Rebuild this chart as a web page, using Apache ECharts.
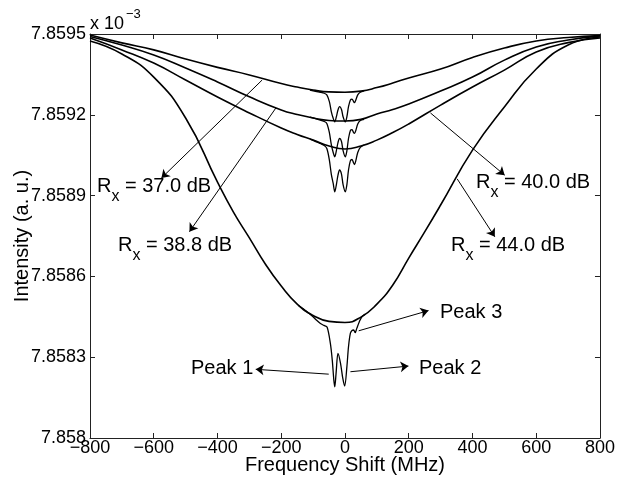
<!DOCTYPE html>
<html>
<head>
<meta charset="utf-8">
<script src="https://cdn.jsdelivr.net/npm/echarts@6/dist/echarts.min.js"></script>
<style>
  html, body { margin: 0; padding: 0; background: #fff; }
  #chart { width: 618px; height: 487px; }
</style>
</head>
<body>
<div id="chart"></div>
<script>
// frequency shift (MHz) where the fitted curves were read
const freq = [-800, -700, -600, -500, -400, -300, -200, -150, -100, -50, 0, 50, 100, 150, 200, 300, 400, 500, 600, 700, 800]
// intensity (x 10^-3 a.u.) of the smooth fitted curves
const fit37 = [7.859496, 7.859467, 7.859441, 7.859407, 7.859376, 7.859348, 7.859316, 7.859303, 7.859292, 7.859285, 7.859284, 7.859288, 7.859301, 7.859318, 7.859337, 7.859370, 7.859413, 7.859448, 7.859474, 7.859487, 7.859494]
const fit388 = [7.859491, 7.859459, 7.859422, 7.859374, 7.859322, 7.859267, 7.859218, 7.859201, 7.859188, 7.859179, 7.859177, 7.859183, 7.859203, 7.859220, 7.859240, 7.859288, 7.859340, 7.859403, 7.859452, 7.859478, 7.859493]
const fit40 = [7.859485, 7.859441, 7.859392, 7.859329, 7.859266, 7.859207, 7.859151, 7.859127, 7.859106, 7.859084, 7.859073, 7.859084, 7.859106, 7.859134, 7.859166, 7.859236, 7.859303, 7.859366, 7.859433, 7.859468, 7.859485]
const freq44 = [-800, -700, -600, -500, -400, -350, -300, -250, -200, -150, -100, -50, 0, 50, 100, 150, 200, 250, 300, 400, 500, 600, 700, 800]
const fit44 = [7.859474, 7.859426, 7.859340, 7.859188, 7.858950, 7.858839, 7.858743, 7.858646, 7.858564, 7.858497, 7.858455, 7.858433, 7.858429, 7.858449, 7.858497, 7.858568, 7.858668, 7.858765, 7.858865, 7.859069, 7.859229, 7.859370, 7.859459, 7.859489]

// measured traces near line centre
const dipFreq = [-110, -80, -65, -57, -49, -43, -37, -32, -27, -22, -17, -11, -6, 1, 6, 11, 17, 22, 27, 30, 34, 40, 48, 60]
const trace37 = [7.859292, 7.859284, 7.859280, 7.859274, 7.859249, 7.859212, 7.859187, 7.859174, 7.859193, 7.859218, 7.859230, 7.859220, 7.859193, 7.859174, 7.859193, 7.859230, 7.859255, 7.859258, 7.859249, 7.859245, 7.859255, 7.859274, 7.859284, 7.859289]
const trace388 = [7.859191, 7.859181, 7.859175, 7.859168, 7.859134, 7.859090, 7.859060, 7.859044, 7.859067, 7.859097, 7.859112, 7.859101, 7.859067, 7.859044, 7.859067, 7.859112, 7.859142, 7.859145, 7.859134, 7.859131, 7.859142, 7.859166, 7.859179, 7.859183]
const trace40 = [7.859110, 7.859095, 7.859086, 7.859075, 7.859032, 7.858980, 7.858945, 7.858914, 7.858941, 7.858976, 7.858995, 7.858980, 7.858941, 7.858914, 7.858941, 7.858995, 7.859030, 7.859034, 7.859021, 7.859015, 7.859030, 7.859060, 7.859079, 7.859088]
const dipFreq44 = [-145, -120, -103, -90, -77, -66, -56, -46, -40, -35, -32, -28, -22, -14, -7, -1, 6, 11, 17, 22, 27, 32, 37, 45, 53, 64]
const trace44 = [7.858491, 7.858470, 7.858453, 7.858438, 7.858425, 7.858418, 7.858411, 7.858352, 7.858290, 7.858215, 7.858190, 7.858240, 7.858314, 7.858277, 7.858222, 7.858193, 7.858265, 7.858339, 7.858389, 7.858399, 7.858401, 7.858391, 7.858407, 7.858432, 7.858450, 7.858460]

const xTicks = [-800, -600, -400, -200, 0, 200, 400, 600, 800]
const yTicks = ['7.858', '7.8583', '7.8586', '7.8589', '7.8592', '7.8595']

const font = 'Liberation Sans, Arial, sans-serif'
const pairs = (xs, ys) => xs.map((x, i) => [x, ys[i]])

function curve(xs, ys, width, smooth) {
  return {
    type: 'line',
    data: pairs(xs, ys),
    showSymbol: false,
    smooth: smooth,
    lineStyle: { color: '#000', width: width },
    silent: true
  }
}

function rxLabel(text, x, y) {
  return {
    type: 'text',
    x: x,
    y: y - 11,
    style: {
      text: '{r|R}{s|x}{r| = ' + text + '}',
      fill: '#000',
      verticalAlign: 'top',
      rich: {
        r: { fontSize: 20, lineHeight: 24, fontFamily: font, fill: '#000' },
        s: { fontSize: 16, lineHeight: 16, padding: [22, 0, 0, 0], fontFamily: font, fill: '#000' }
      }
    }
  }
}

function plainLabel(text, x, y, size) {
  return {
    type: 'text',
    x: x,
    y: y,
    style: { text: text, fill: '#000', font: size + 'px ' + font, verticalAlign: 'middle' }
  }
}

const chart = echarts.init(document.getElementById('chart'))

const arrow = (a, b) => [{ coord: a }, { coord: b }]
const axisLine = { show: true, onZero: false, lineStyle: { color: '#222', width: 1 } }
const tick = { show: true, inside: true, length: 5, lineStyle: { color: '#222' } }

chart.setOption({
  animation: false,
  grid: { left: 90, right: 16, top: 34, bottom: 49 },
  xAxis: [{
    type: 'value',
    min: -800,
    max: 800,
    interval: 200,
    name: 'Frequency Shift (MHz)',
    nameLocation: 'middle',
    nameGap: 17,
    nameMoveOverlap: false,
    nameTextStyle: { fontSize: 20, fontFamily: font, color: '#000' },
    axisLine: axisLine,
    axisTick: tick,
    axisLabel: {
      fontSize: 18, fontFamily: font, color: '#000', margin: 1,
      showMinLabel: true, showMaxLabel: true, hideOverlap: false,
      formatter: v => xTicks.includes(v) ? String(v).replace('-', '\u2212') : ''
    },
    splitLine: { show: false }
  }, {
    type: 'value',
    position: 'top',
    min: -800,
    max: 800,
    interval: 200,
    axisLine: axisLine,
    axisTick: tick,
    axisLabel: { show: false },
    splitLine: { show: false }
  }],
  yAxis: [{
    type: 'value',
    min: 7.858,
    max: 7.8595,
    interval: 0.0003,
    name: 'Intensity (a. u.)',
    nameLocation: 'middle',
    nameGap: 58,
    nameMoveOverlap: false,
    nameTextStyle: { fontSize: 20, fontFamily: font, color: '#000' },
    axisLine: axisLine,
    axisTick: tick,
    axisLabel: {
      fontSize: 18, fontFamily: font, color: '#000', margin: 4,
      showMinLabel: true, showMaxLabel: true, hideOverlap: false,
      formatter: v => {
        const s = String(parseFloat(v.toFixed(4)))
        return yTicks.includes(s) ? s : ''
      }
    },
    splitLine: { show: false }
  }, {
    type: 'value',
    position: 'right',
    min: 7.858,
    max: 7.8595,
    interval: 0.0003,
    axisLine: axisLine,
    axisTick: tick,
    axisLabel: { show: false },
    splitLine: { show: false }
  }],
  series: [
    curve(freq, fit37, 1.6, true),
    curve(freq, fit388, 1.6, true),
    curve(freq, fit40, 1.6, true),
    Object.assign(curve(freq44, fit44, 1.6, true), {
      markLine: {
        silent: true,
        symbol: ['none', 'arrow'],
        symbolSize: 8,
        label: { show: false },
        lineStyle: { color: '#000', width: 1, type: 'solid' },
        data: [
          arrow([-260, 7.859329], [-576, 7.858965]),
          arrow([-217, 7.859225], [-488, 7.858766]),
          arrow([268, 7.859207], [501, 7.858976]),
          arrow([352, 7.858962], [470, 7.858747]),
          arrow([-51, 7.858237], [-280, 7.858255]),
          arrow([17, 7.858246], [199, 7.858267]),
          arrow([43, 7.858398], [262, 7.858473])
        ]
      }
    }),
    curve(dipFreq, trace37, 1.3, 0.3),
    curve(dipFreq, trace388, 1.3, 0.3),
    curve(dipFreq, trace40, 1.3, 0.3),
    curve(dipFreq44, trace44, 1.3, 0.3)
  ],
  graphic: [
    plainLabel('x 10', 90, 24, 18),
    plainLabel('\u22123', 126, 14, 13),
    rxLabel('37.0 dB', 97, 185),
    rxLabel('38.8 dB', 118, 244),
    rxLabel('40.0 dB', 476, 181),
    rxLabel('44.0 dB', 451, 244),
    plainLabel('Peak 1', 191, 368, 20),
    plainLabel('Peak 2', 419, 368, 20),
    plainLabel('Peak 3', 440, 312, 20)
  ]
})
</script>
</body>
</html>
